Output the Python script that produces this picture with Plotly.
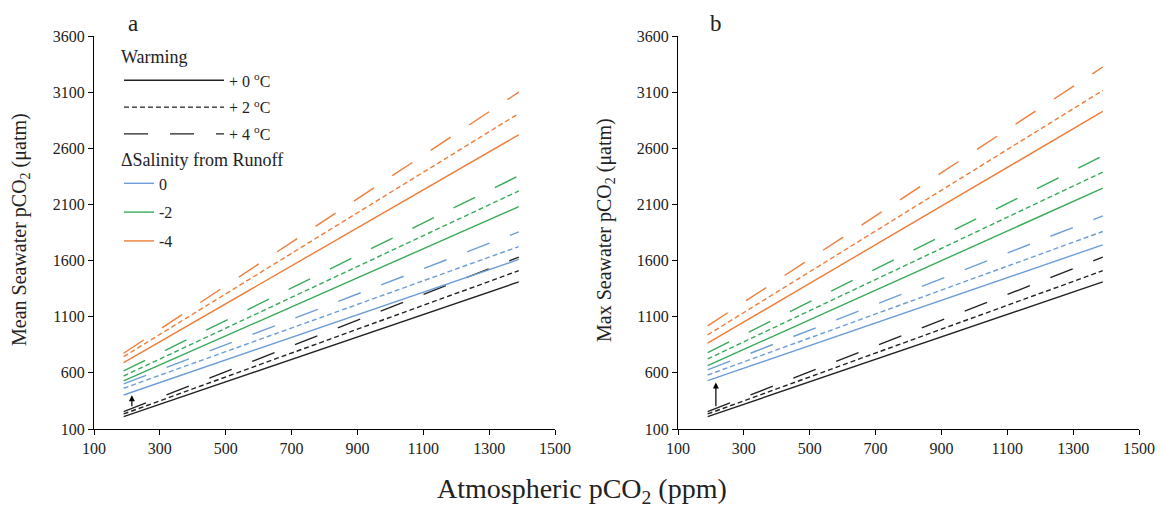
import plotly.graph_objects as go

# ---------------- data ----------------
X_PPM = [190, 1390]                      # atmospheric pCO2 range of each line
X_TICKS = list(range(100, 1501, 200))
Y_TICKS = list(range(100, 3601, 500))

WARMING = ["+ 0 <sup>o</sup>C", "+ 2 <sup>o</sup>C", "+ 4 <sup>o</sup>C"]
SALINITY = ["0", "-2", "-4"]

# panel a (mean): [start, end] values for warming +0, +2, +4
MEAN_BASE = [[210, 1410], [234, 1510], [254, 1630]]
MEAN_SAL0 = [[403, 1610], [463, 1725], [501, 1855]]
MEAN_SAL2 = [[528, 2080], [572, 2220], [617, 2355]]
MEAN_SAL4 = [[691, 2720], [744, 2910], [775, 3100]]

# panel b (max)
MAX_BASE = [[210, 1410], [234, 1510], [254, 1630]]
MAX_SAL0 = [[531, 1740], [581, 1859], [626, 1998]]
MAX_SAL2 = [[664, 2245], [724, 2388], [780, 2533]]
MAX_SAL4 = [[864, 2928], [938, 3115], [1018, 3324]]

ARROW_X = 215
ARROW_MEAN = [290, 400]
ARROW_MAX = [290, 515]

# ---------------- style ----------------
FONT = "Liberation Serif, Times New Roman, serif"
C_BLACK = "#222222"
C_BLUE = "#6d9dd6"
C_GREEN = "#38ab58"
C_ORANGE = "#ef7d38"
DASHES = ["solid", "5px,3px", "24px,22px"]
OFF = 8                 # page body margin in the browser
W = 1163 - OFF
H = 512 - OFF

fig = go.Figure()

panels = [
    ("x", "y", [MEAN_BASE, MEAN_SAL0, MEAN_SAL2, MEAN_SAL4]),
    ("x2", "y2", [MAX_BASE, MAX_SAL0, MAX_SAL2, MAX_SAL4]),
]
colors = [C_BLACK, C_BLUE, C_GREEN, C_ORANGE]
for xa, ya, groups in panels:
    for color, group in zip(colors, groups):
        for dash, vals in zip(DASHES, group):
            fig.add_trace(go.Scatter(
                x=X_PPM, y=vals, mode="lines", xaxis=xa, yaxis=ya,
                line=dict(color=color, width=1.4, dash=dash),
                showlegend=False, hoverinfo="skip"))

# legend entries: warming (black line styles)
for i, (dash, lab) in enumerate(zip(DASHES, WARMING)):
    fig.add_trace(go.Scatter(
        x=[None], y=[None], mode="lines", name=lab, legend="legend",
        legendgroup=f"w{i}",
        line=dict(color=C_BLACK, width=1.4, dash=dash)))
# legend entries: salinity (colors)
for i, (color, lab) in enumerate(zip(colors[1:], SALINITY)):
    fig.add_trace(go.Scatter(
        x=[None], y=[None], mode="lines", name=lab, legend="legend2",
        legendgroup=f"s{i}",
        line=dict(color=color, width=1.4)))

def px_x(p):
    return (p - OFF) / W

def px_y(p):
    return 1 - (p - OFF) / H

axis_common = dict(
    showgrid=False, zeroline=False, showline=True, linecolor="black",
    linewidth=1.2, ticks="outside", ticklen=5, tickcolor="black",
    tickfont=dict(family=FONT, size=16, color="#222"), automargin=False,
)

fig.update_layout(
    width=W, height=H,
    margin=dict(l=0, r=0, t=0, b=0),
    paper_bgcolor="white", plot_bgcolor="white",
    font=dict(family=FONT, color="#222"),
    xaxis=dict(domain=[px_x(94), px_x(555)], range=[100, 1500],
               tickvals=X_TICKS, anchor="y", **axis_common),
    yaxis=dict(domain=[px_y(429), px_y(36)], range=[100, 3600],
               tickvals=Y_TICKS, anchor="x", **axis_common),
    xaxis2=dict(domain=[px_x(678), px_x(1139)], range=[100, 1500],
                tickvals=X_TICKS, anchor="y2", **axis_common),
    yaxis2=dict(domain=[px_y(429), px_y(36)], range=[100, 3600],
                tickvals=Y_TICKS, anchor="x2", **axis_common),
    legend=dict(
        x=px_x(119), y=px_y(40), xanchor="left", yanchor="top",
        bgcolor="rgba(0,0,0,0)", itemwidth=100, tracegroupgap=3,
        title=dict(text="Warming", font=dict(family=FONT, size=18, color="#222"), side="top"),
        font=dict(family=FONT, size=16, color="#222"),
        itemclick=False, itemdoubleclick=False,
    ),
    legend2=dict(
        x=px_x(119), y=px_y(143), xanchor="left", yanchor="top",
        bgcolor="rgba(0,0,0,0)", itemwidth=30, tracegroupgap=5,
        title=dict(text="\u0394Salinity from Runoff", font=dict(family=FONT, size=18, color="#222"), side="top"),
        font=dict(family=FONT, size=16, color="#222"),
        itemclick=False, itemdoubleclick=False,
    ),
)

def label(text, x, y, size, angle=0):
    return dict(text=text, x=px_x(x), y=px_y(y), xref="paper", yref="paper",
                xanchor="center", yanchor="middle", textangle=angle,
                showarrow=False, font=dict(family=FONT, size=size, color="#222"))

annotations = [
    label("a", 133, 23, 23),
    label("b", 716, 23, 23),
    label("Mean Seawater pCO<sub>2</sub> (\u03bcatm)", 20, 230, 20, -90),
    label("Max Seawater pCO<sub>2</sub> (\u03bcatm)", 605, 230, 20, -90),
    label("Atmospheric pCO<sub>2</sub> (ppm)", 582, 490, 28),
    dict(x=ARROW_X, y=ARROW_MEAN[1], ax=ARROW_X, ay=ARROW_MEAN[0],
         xref="x", yref="y", axref="x", ayref="y", showarrow=True,
         arrowhead=2, arrowsize=1, arrowwidth=1.2, arrowcolor="black", text=""),
    dict(x=ARROW_X, y=ARROW_MAX[1], ax=ARROW_X, ay=ARROW_MAX[0],
         xref="x2", yref="y2", axref="x2", ayref="y2", showarrow=True,
         arrowhead=2, arrowsize=1, arrowwidth=1.2, arrowcolor="black", text=""),
]
fig.update_layout(annotations=annotations)

fig.write_html("out.html")
